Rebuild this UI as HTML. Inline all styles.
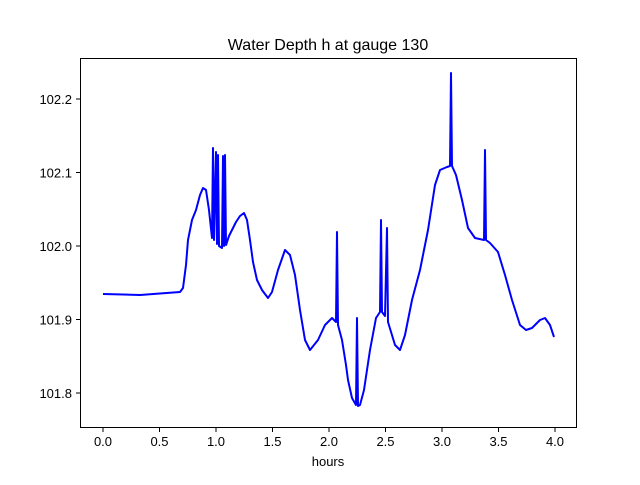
<!DOCTYPE html>
<html><head><style>body{margin:0;background:#fff}</style></head><body>
<svg width="640" height="480" xmlns="http://www.w3.org/2000/svg" font-family="Liberation Sans, DejaVu Sans, sans-serif">
<rect width="640" height="480" fill="#fff"/>
<text x="328" y="50" font-size="16" text-anchor="middle">Water Depth h at gauge 130</text>
<path fill="none" stroke="#0000ff" stroke-width="2" stroke-linejoin="round" d="M103,294 L140,295 L180,292 L183,288 L186,265 L188,240 L192,220 L196,210 L200,195 L203,188 L206,190 L209,210 L212,238 L213,148 L214,240 L216,152 L217,244 L218,155 L219,246 L222,248 L223,156 L224,246 L225,155 L226,245 L229,236 L232,230 L236,222 L240,216 L244,213 L247,220 L250,240 L253,262 L257,280 L262,290 L268,298 L272,292 L278,270 L285,250 L290,255 L295,275 L300,310 L305,340 L310,350 L318,340 L325,325 L332,318 L336,322 L337,232 L338,325 L342,340 L346,365 L348,380 L352,398 L356,405 L357,318 L358,406 L360,405 L364,390 L370,350 L376,318 L380,312 L381,220 L382,312 L385,316 L387,228 L388,322 L395,345 L400,350 L405,335 L412,300 L420,270 L428,230 L435,185 L440,170 L447,167 L450,166 L451,73 L452,166 L456,175 L462,200 L468,228 L475,238 L484,240 L485,150 L486,240 L490,243 L498,252 L505,275 L512,300 L520,325 L526,330 L532,328 L540,320 L545,318 L550,325 L554,337"/>
<rect x="80.5" y="58.5" width="496" height="369" fill="none" stroke="#000" stroke-width="1"/>
<g stroke="#000">
<line x1="103" y1="427" x2="103" y2="432"/><line x1="159.5" y1="427" x2="159.5" y2="432"/><line x1="216" y1="427" x2="216" y2="432"/><line x1="272.5" y1="427" x2="272.5" y2="432"/><line x1="329" y1="427" x2="329" y2="432"/><line x1="385.5" y1="427" x2="385.5" y2="432"/><line x1="442" y1="427" x2="442" y2="432"/><line x1="498.5" y1="427" x2="498.5" y2="432"/><line x1="555" y1="427" x2="555" y2="432"/>
<line x1="76" y1="393" x2="80" y2="393"/><line x1="76" y1="319.5" x2="80" y2="319.5"/><line x1="76" y1="246" x2="80" y2="246"/><line x1="76" y1="172.5" x2="80" y2="172.5"/><line x1="76" y1="99" x2="80" y2="99"/>
</g>
<g font-size="13" text-anchor="middle">
<text x="103" y="446">0.0</text><text x="159.5" y="446">0.5</text><text x="216" y="446">1.0</text><text x="272.5" y="446">1.5</text><text x="329" y="446">2.0</text><text x="385.5" y="446">2.5</text><text x="442" y="446">3.0</text><text x="498.5" y="446">3.5</text><text x="555" y="446">4.0</text>
<text x="328" y="466">hours</text>
</g>
<g font-size="13" text-anchor="end">
<text x="72" y="398">101.8</text><text x="72" y="324.5">101.9</text><text x="72" y="251">102.0</text><text x="72" y="177.5">102.1</text><text x="72" y="104">102.2</text>
</g>
</svg>
</body></html>
